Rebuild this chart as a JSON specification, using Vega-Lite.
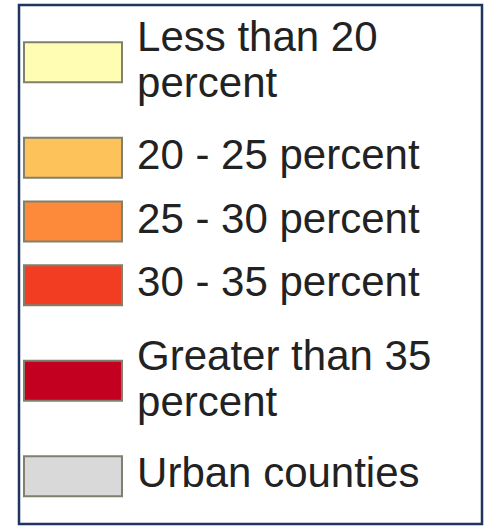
{
  "$schema": "https://vega.github.io/schema/vega-lite/v6.json",
  "width": 463,
  "height": 519,
  "autosize": {"type": "none"},
  "padding": {"left": 19, "top": 5, "right": 6, "bottom": 2},
  "background": "white",
  "config": {"view": {"stroke": "#1f3560", "strokeWidth": 2.5}},
  "data": {"values": [
    {"rank": 1, "label": "Less than 20\npercent", "lines": 2},
    {"rank": 2, "label": "20 - 25 percent", "lines": 1},
    {"rank": 3, "label": "25 - 30 percent", "lines": 1},
    {"rank": 4, "label": "30 - 35 percent", "lines": 1},
    {"rank": 5, "label": "Greater than 35\npercent", "lines": 2},
    {"rank": 6, "label": "Urban counties", "lines": 1}
  ]},
  "encoding": {
    "y": {"field": "lines", "type": "quantitative", "stack": "zero", "bandPosition": 0.5,
          "scale": {"domain": [0.1, 8.25], "reverse": true, "nice": false, "zero": false}, "axis": null},
    "order": {"field": "rank", "type": "quantitative"},
    "detail": {"field": "label", "type": "nominal"}
  },
  "layer": [
    {
      "mark": {"type": "point", "shape": "M-1,-0.408H1V0.408H-1Z", "size": 9604, "filled": true, "opacity": 1, "stroke": "#80806e", "strokeWidth": 2},
      "encoding": {
        "x": {"datum": 11.66, "type": "quantitative", "scale": {"domain": [0, 100], "nice": false, "zero": false}, "axis": null},
        "color": {"field": "label", "type": "nominal", "legend": null,
          "scale": {"domain": ["Less than 20\npercent", "20 - 25 percent", "25 - 30 percent", "30 - 35 percent", "Greater than 35\npercent", "Urban counties"],
                    "range": ["#fffcb4", "#fdc35a", "#fd8a3a", "#f23d22", "#c30020", "#d9d9d9"]}}
      }
    },
    {
      "mark": {"type": "text", "align": "left", "baseline": "middle", "dy": -2, "font": "Liberation Sans", "fontSize": 42, "lineHeight": 46, "lineBreak": "\n", "color": "#222222"},
      "encoding": {
        "x": {"datum": 25.5, "type": "quantitative"},
        "text": {"condition": {"test": "datum.lines == 1", "field": "label", "type": "nominal"}, "value": ""}
      }
    },
    {
      "mark": {"type": "text", "align": "left", "baseline": "middle", "dy": -24, "font": "Liberation Sans", "fontSize": 42, "lineHeight": 46, "lineBreak": "\n", "color": "#222222"},
      "encoding": {
        "x": {"datum": 25.5, "type": "quantitative"},
        "text": {"condition": {"test": "datum.lines == 2", "field": "label", "type": "nominal"}, "value": ""}
      }
    }
  ]
}
